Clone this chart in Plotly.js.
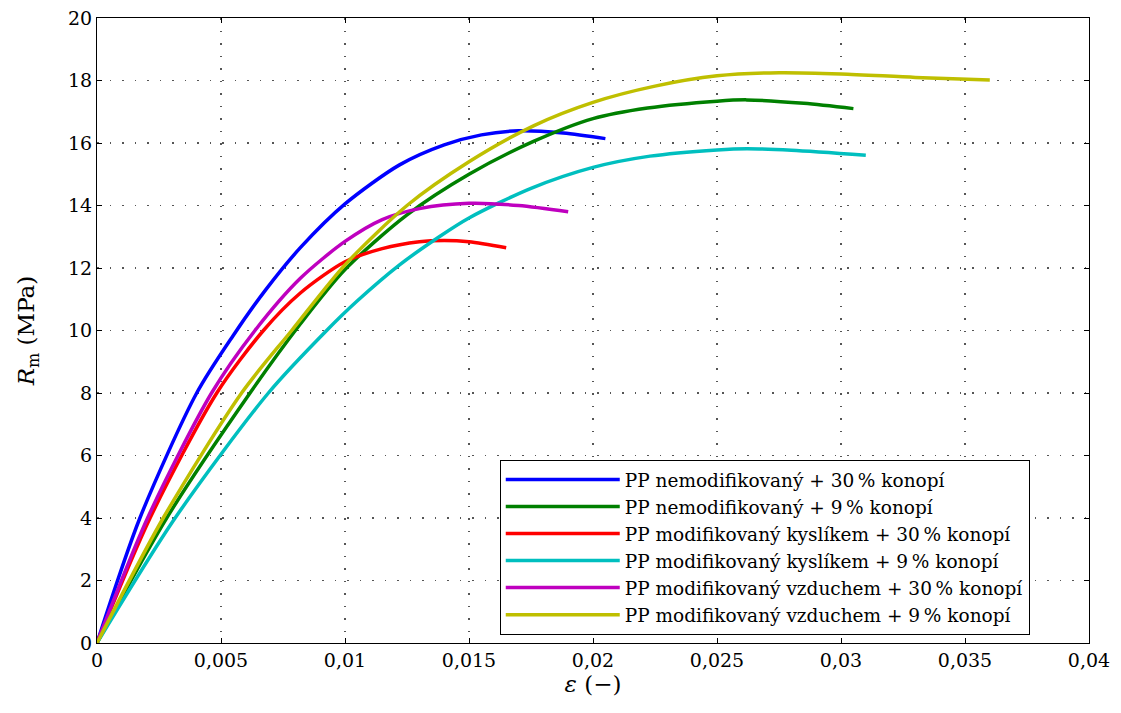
<!DOCTYPE html>
<html>
<head>
<meta charset="utf-8">
<script src="https://cdn.plot.ly/plotly-3.0.1.min.js"></script>
<style>html,body{margin:0;padding:0;background:#fff;}#chart{width:1121px;height:713px;}</style>
</head>
<body>
<div id="chart"></div>
<script>
// Series names
const seriesNames = [
  "PP nemodifikovaný + 30\u2009% konopí",
  "PP nemodifikovaný + 9\u2009% konopí",
  "PP modifikovaný kyslíkem + 30\u2009% konopí",
  "PP modifikovaný kyslíkem + 9\u2009% konopí",
  "PP modifikovaný vzduchem + 30\u2009% konopí",
  "PP modifikovaný vzduchem + 9\u2009% konopí"
];
const seriesColors = ["#0000ff", "#008000", "#ff0000", "#00bfbf", "#bf00bf", "#bfbf00"];

// strain (-) and stress (MPa) per series
const strainNem30 = [0, 0.00173, 0.00402, 0.0055, 0.0068, 0.0082, 0.0100, 0.0122, 0.0140, 0.0155, 0.0170, 0.0188, 0.0205];
const stressNem30 = [0, 4, 8, 9.85, 11.3, 12.65, 14.05, 15.3, 15.94, 16.26, 16.39, 16.32, 16.14];

const strainNem9 = [0, 0.00281, 0.00617, 0.00819, 0.0100, 0.0125, 0.0150, 0.0176, 0.0200, 0.0222, 0.0250, 0.0262, 0.0285, 0.0305];
const stressNem9 = [0, 4, 8, 10.2, 11.95, 13.7, 15.0, 16.05, 16.78, 17.12, 17.34, 17.38, 17.27, 17.1];

const strainKys30 = [0, 0.00214, 0.00483, 0.00671, 0.0082, 0.0100, 0.0115, 0.0130, 0.0140, 0.0150, 0.0165];
const stressKys30 = [0, 4, 8, 10, 11.2, 12.2, 12.62, 12.84, 12.88, 12.84, 12.65];

const strainKys9 = [0, 0.00315, 0.00691, 0.00926, 0.0105, 0.0122, 0.0138, 0.0150, 0.0175, 0.0200, 0.0223, 0.0250, 0.0262, 0.0280, 0.0310];
const stressKys9 = [0, 4, 8, 10, 10.95, 12.1, 13.0, 13.6, 14.55, 15.22, 15.58, 15.78, 15.82, 15.77, 15.61];

const strainVzd30 = [0, 0.00204, 0.00462, 0.00637, 0.0082, 0.0100, 0.0115, 0.0130, 0.0150, 0.0170, 0.0190];
const stressVzd30 = [0, 4, 8, 10, 11.67, 12.85, 13.55, 13.9, 14.07, 14.0, 13.8];

const strainVzd9 = [0, 0.00267, 0.00583, 0.00785, 0.0100, 0.0125, 0.0150, 0.0176, 0.0200, 0.0225, 0.0250, 0.0275, 0.0300, 0.0330, 0.0360];
const stressVzd9 = [0, 4, 8, 10, 12.1, 14.0, 15.4, 16.55, 17.3, 17.82, 18.15, 18.25, 18.21, 18.1, 18.02];

const xTickVals = [0, 0.005, 0.01, 0.015, 0.02, 0.025, 0.03, 0.035, 0.04];
const xTickLabels = ["0", "0,005", "0,01", "0,015", "0,02", "0,025", "0,03", "0,035", "0,04"];
const yTickVals = [0, 2, 4, 6, 8, 10, 12, 14, 16, 18, 20];

const xs = [strainNem30, strainNem9, strainKys30, strainKys9, strainVzd30, strainVzd9];
const ys = [stressNem30, stressNem9, stressKys30, stressKys9, stressVzd30, stressVzd9];

const traces = xs.map((x, i) => ({
  x: x, y: ys[i], name: seriesNames[i], type: "scatter", mode: "lines",
  line: {color: seriesColors[i], width: 3.5, shape: "spline", smoothing: 0.8}
}));

const fontFam = "DejaVu Serif, serif";
const axisCommon = {
  showline: true, linecolor: "#000", linewidth: 1, mirror: "ticks",
  ticks: "inside", ticklen: 5, tickcolor: "#000",
  showgrid: true, gridcolor: "#555", griddash: "1.5px,11px", gridwidth: 1.2,
  zeroline: false, tickfont: {family: fontFam, size: 19, color: "#000"}
};

const layout = {
  width: 1121, height: 713,
  margin: {l: 97, r: 32, t: 18, b: 70},
  paper_bgcolor: "#fff", plot_bgcolor: "#fff",
  font: {family: fontFam, color: "#000"},
  xaxis: Object.assign({}, axisCommon, {
    range: [0, 0.04], tickvals: xTickVals, ticktext: xTickLabels,
    title: {text: "<i>ε</i> (−)", font: {family: fontFam, size: 23}, standoff: 4}
  }),
  yaxis: Object.assign({}, axisCommon, {
    range: [0, 20], tickvals: yTickVals,
    title: {text: "<i>R</i><sub>m</sub> (MPa)", font: {family: fontFam, size: 23}, standoff: 26}
  }),
  showlegend: true,
  legend: {
    x: 0.406, y: 0.293, xanchor: "left", yanchor: "top",
    bgcolor: "#fff", bordercolor: "#000", borderwidth: 1,
    font: {family: fontFam, size: 18.5, color: "#000"},
    itemwidth: 114, tracegroupgap: 0
  }
};

Plotly.newPlot("chart", traces, layout, {displayModeBar: false, staticPlot: true});
</script>
</body>
</html>
